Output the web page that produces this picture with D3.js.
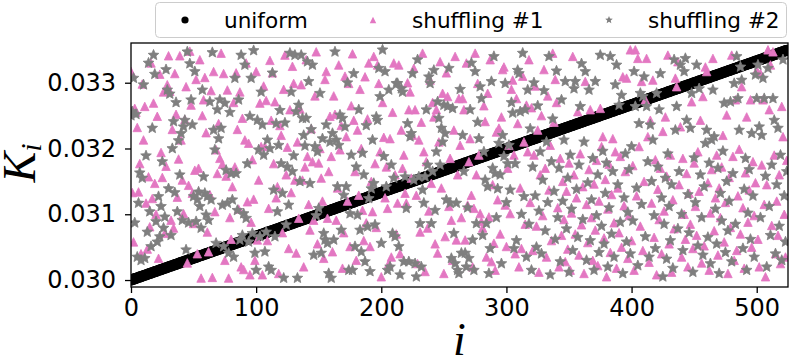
<!DOCTYPE html>
<html>
<head>
<meta charset="utf-8">
<script src="https://d3js.org/d3.v7.min.js"></script>
<style>
  body { margin: 0; background: #ffffff; }
  .axis text { font-family: "DejaVu Sans", sans-serif; font-size: 24px; fill: #000; }
  .axis line { stroke: #000; stroke-width: 1.3px; }
  .legendText { font-family: "DejaVu Sans", sans-serif; font-size: 21.6px; fill: #000; }
  .axisLabel { font-family: "Liberation Serif", serif; font-style: italic; font-size: 46px; fill: #000; }
</style>
</head>
<body>
<svg class="chart"></svg>
<script>

// K_i for the sorted ("uniform") assignment
var uniformK = [
  0.030000, 0.030007, 0.030013, 0.030020, 0.030027, 0.030033, 0.030040, 0.030047, 0.030053, 0.030060, 0.030067, 0.030073,
  0.030080, 0.030087, 0.030093, 0.030100, 0.030107, 0.030113, 0.030120, 0.030127, 0.030133, 0.030140, 0.030147, 0.030153,
  0.030160, 0.030167, 0.030173, 0.030180, 0.030187, 0.030193, 0.030200, 0.030207, 0.030213, 0.030220, 0.030227, 0.030233,
  0.030240, 0.030247, 0.030253, 0.030260, 0.030267, 0.030273, 0.030280, 0.030287, 0.030293, 0.030300, 0.030307, 0.030313,
  0.030320, 0.030327, 0.030333, 0.030340, 0.030347, 0.030353, 0.030360, 0.030367, 0.030373, 0.030380, 0.030387, 0.030393,
  0.030400, 0.030407, 0.030413, 0.030420, 0.030427, 0.030433, 0.030440, 0.030447, 0.030453, 0.030460, 0.030467, 0.030473,
  0.030480, 0.030487, 0.030493, 0.030500, 0.030507, 0.030513, 0.030520, 0.030527, 0.030533, 0.030540, 0.030547, 0.030553,
  0.030560, 0.030567, 0.030573, 0.030580, 0.030587, 0.030593, 0.030600, 0.030607, 0.030613, 0.030620, 0.030627, 0.030633,
  0.030640, 0.030647, 0.030653, 0.030660, 0.030667, 0.030673, 0.030680, 0.030687, 0.030693, 0.030700, 0.030707, 0.030713,
  0.030720, 0.030727, 0.030733, 0.030740, 0.030747, 0.030753, 0.030760, 0.030767, 0.030773, 0.030780, 0.030787, 0.030793,
  0.030800, 0.030807, 0.030813, 0.030820, 0.030827, 0.030833, 0.030840, 0.030847, 0.030853, 0.030860, 0.030867, 0.030873,
  0.030880, 0.030887, 0.030893, 0.030900, 0.030907, 0.030913, 0.030920, 0.030927, 0.030933, 0.030940, 0.030947, 0.030953,
  0.030960, 0.030967, 0.030973, 0.030980, 0.030987, 0.030993, 0.031000, 0.031007, 0.031013, 0.031020, 0.031027, 0.031033,
  0.031040, 0.031047, 0.031053, 0.031060, 0.031067, 0.031073, 0.031080, 0.031087, 0.031093, 0.031100, 0.031107, 0.031113,
  0.031120, 0.031127, 0.031133, 0.031140, 0.031147, 0.031153, 0.031160, 0.031167, 0.031173, 0.031180, 0.031187, 0.031193,
  0.031200, 0.031207, 0.031213, 0.031220, 0.031227, 0.031233, 0.031240, 0.031247, 0.031253, 0.031260, 0.031267, 0.031273,
  0.031280, 0.031287, 0.031293, 0.031300, 0.031307, 0.031313, 0.031320, 0.031327, 0.031333, 0.031340, 0.031347, 0.031353,
  0.031360, 0.031367, 0.031373, 0.031380, 0.031387, 0.031393, 0.031400, 0.031407, 0.031413, 0.031420, 0.031427, 0.031433,
  0.031440, 0.031447, 0.031453, 0.031460, 0.031467, 0.031473, 0.031480, 0.031487, 0.031493, 0.031500, 0.031507, 0.031513,
  0.031520, 0.031527, 0.031533, 0.031540, 0.031547, 0.031553, 0.031560, 0.031567, 0.031573, 0.031580, 0.031587, 0.031593,
  0.031600, 0.031607, 0.031613, 0.031620, 0.031627, 0.031633, 0.031640, 0.031647, 0.031653, 0.031660, 0.031667, 0.031673,
  0.031680, 0.031687, 0.031693, 0.031700, 0.031707, 0.031713, 0.031720, 0.031727, 0.031733, 0.031740, 0.031747, 0.031753,
  0.031760, 0.031767, 0.031773, 0.031780, 0.031787, 0.031793, 0.031800, 0.031807, 0.031813, 0.031820, 0.031827, 0.031833,
  0.031840, 0.031847, 0.031853, 0.031860, 0.031867, 0.031873, 0.031880, 0.031887, 0.031893, 0.031900, 0.031907, 0.031913,
  0.031920, 0.031927, 0.031933, 0.031940, 0.031947, 0.031953, 0.031960, 0.031967, 0.031973, 0.031980, 0.031987, 0.031993,
  0.032000, 0.032007, 0.032013, 0.032020, 0.032027, 0.032033, 0.032040, 0.032047, 0.032053, 0.032060, 0.032067, 0.032073,
  0.032080, 0.032087, 0.032093, 0.032100, 0.032107, 0.032113, 0.032120, 0.032127, 0.032133, 0.032140, 0.032147, 0.032153,
  0.032160, 0.032167, 0.032173, 0.032180, 0.032187, 0.032193, 0.032200, 0.032207, 0.032213, 0.032220, 0.032227, 0.032233,
  0.032240, 0.032247, 0.032253, 0.032260, 0.032267, 0.032273, 0.032280, 0.032287, 0.032293, 0.032300, 0.032307, 0.032313,
  0.032320, 0.032327, 0.032333, 0.032340, 0.032347, 0.032353, 0.032360, 0.032367, 0.032373, 0.032380, 0.032387, 0.032393,
  0.032400, 0.032407, 0.032413, 0.032420, 0.032427, 0.032433, 0.032440, 0.032447, 0.032453, 0.032460, 0.032467, 0.032473,
  0.032480, 0.032487, 0.032493, 0.032500, 0.032507, 0.032513, 0.032520, 0.032527, 0.032533, 0.032540, 0.032547, 0.032553,
  0.032560, 0.032567, 0.032573, 0.032580, 0.032587, 0.032593, 0.032600, 0.032607, 0.032613, 0.032620, 0.032627, 0.032633,
  0.032640, 0.032647, 0.032653, 0.032660, 0.032667, 0.032673, 0.032680, 0.032687, 0.032693, 0.032700, 0.032707, 0.032713,
  0.032720, 0.032727, 0.032733, 0.032740, 0.032747, 0.032753, 0.032760, 0.032767, 0.032773, 0.032780, 0.032787, 0.032793,
  0.032800, 0.032807, 0.032813, 0.032820, 0.032827, 0.032833, 0.032840, 0.032847, 0.032853, 0.032860, 0.032867, 0.032873,
  0.032880, 0.032887, 0.032893, 0.032900, 0.032907, 0.032913, 0.032920, 0.032927, 0.032933, 0.032940, 0.032947, 0.032953,
  0.032960, 0.032967, 0.032973, 0.032980, 0.032987, 0.032993, 0.033000, 0.033007, 0.033013, 0.033020, 0.033027, 0.033033,
  0.033040, 0.033047, 0.033053, 0.033060, 0.033067, 0.033073, 0.033080, 0.033087, 0.033093, 0.033100, 0.033107, 0.033113,
  0.033120, 0.033127, 0.033133, 0.033140, 0.033147, 0.033153, 0.033160, 0.033167, 0.033173, 0.033180, 0.033187, 0.033193,
  0.033200, 0.033207, 0.033213, 0.033220, 0.033227, 0.033233, 0.033240, 0.033247, 0.033253, 0.033260, 0.033267, 0.033273,
  0.033280, 0.033287, 0.033293, 0.033300, 0.033307, 0.033313, 0.033320, 0.033327, 0.033333, 0.033340, 0.033347, 0.033353,
  0.033360, 0.033367, 0.033373, 0.033380, 0.033387, 0.033393, 0.033400, 0.033407, 0.033413, 0.033420, 0.033427, 0.033433,
  0.033440, 0.033447, 0.033453, 0.033460, 0.033467, 0.033473, 0.033480, 0.033487, 0.033493
];

// shuffling #1 (index order)
var shuffling1 = [
  0.03317, 0.03133, 0.03058, 0.03261, 0.03255, 0.03232, 0.03134, 0.03177, 0.03040, 0.03298, 0.03213, 0.03264, 0.03117, 0.03047, 0.03157, 0.03081, 0.03330, 0.03124,
  0.03269, 0.03147, 0.03100, 0.03249, 0.03033, 0.03313, 0.03194, 0.03156, 0.03286, 0.03071, 0.03173, 0.03297, 0.03341, 0.03287, 0.03091, 0.03229, 0.03079, 0.03314,
  0.03252, 0.03126, 0.03184, 0.03341, 0.03213, 0.03152, 0.03101, 0.03244, 0.03294, 0.03026, 0.03144, 0.03348, 0.03266, 0.03132, 0.03086, 0.03167, 0.03305, 0.03040,
  0.03170, 0.03335, 0.03003, 0.03250, 0.03274, 0.03308, 0.03224, 0.03073, 0.03043, 0.03130, 0.03288, 0.03004, 0.03317, 0.03104, 0.03198, 0.03162, 0.03238, 0.03185,
  0.03345, 0.03176, 0.03314, 0.03030, 0.03158, 0.03289, 0.03003, 0.03095, 0.03062, 0.03142, 0.03270, 0.03172, 0.03315, 0.03229, 0.03108, 0.03286, 0.03020, 0.03246,
  0.03016, 0.03213, 0.03330, 0.03119, 0.03208, 0.03008, 0.03088, 0.03183, 0.03123, 0.03030, 0.03317, 0.03061, 0.03152, 0.03269, 0.03203, 0.03008, 0.03295,
  0.03203, 0.03273, 0.03060, 0.03109, 0.03334, 0.03243, 0.03315, 0.03177, 0.03271, 0.03125, 0.03142, 0.03010, 0.03235, 0.03220, 0.03072, 0.03290, 0.03342, 0.03160,
  0.03202, 0.03048, 0.03259, 0.03133, 0.03325, 0.03299, 0.03152, 0.03041, 0.03210, 0.03094, 0.03260, 0.03297, 0.03152, 0.03020, 0.03172, 0.03335, 0.03188, 0.03115,
  0.03076, 0.03230, 0.03180, 0.03091, 0.03280, 0.03347, 0.03055, 0.03178, 0.03200, 0.03155, 0.03120, 0.03033, 0.03305, 0.03317, 0.03094, 0.03165, 0.03249,
  0.03188, 0.03043, 0.03280, 0.03252, 0.03091, 0.03140, 0.03327, 0.03198, 0.03235, 0.03018, 0.03072, 0.03310, 0.03218, 0.03120, 0.03299, 0.03051, 0.03265, 0.03344,
  0.03243, 0.03165, 0.03030, 0.03228, 0.03129, 0.03290, 0.03200, 0.03106, 0.03060, 0.03309, 0.03087, 0.03245, 0.03330, 0.03051, 0.03150, 0.03104, 0.03340, 0.03177,
  0.03080, 0.03327, 0.03299, 0.03195, 0.03005, 0.03270, 0.03217, 0.03125, 0.03172, 0.03109, 0.03025, 0.03215, 0.03035, 0.03255, 0.03330, 0.03160, 0.03070,
  0.03117, 0.03327, 0.03040, 0.03228, 0.03170, 0.03190, 0.03132, 0.03117, 0.03300, 0.03259, 0.03286, 0.03155, 0.03220, 0.03322, 0.03259, 0.03129, 0.03025, 0.03213,
  0.03073, 0.03240, 0.03345, 0.03195, 0.03013, 0.03180, 0.03079, 0.03105, 0.03304, 0.03147, 0.03270, 0.03248, 0.03055, 0.03259, 0.03041, 0.03210, 0.03332, 0.03140,
  0.03284, 0.03010, 0.03066, 0.03315, 0.03279, 0.03112, 0.03185, 0.03091, 0.03030, 0.03228, 0.03340, 0.03061, 0.03160, 0.03276, 0.03205, 0.03095,
  0.03276, 0.03259, 0.03061, 0.03330, 0.03114, 0.03180, 0.03215, 0.03129, 0.03020, 0.03109, 0.03345, 0.03160, 0.03299, 0.03190, 0.03101, 0.03089, 0.03079, 0.03265,
  0.03241, 0.03035, 0.03284, 0.03096, 0.03335, 0.03028, 0.03145, 0.03056, 0.03015, 0.03225, 0.03122, 0.03231, 0.03070, 0.03248, 0.03320, 0.03324, 0.03114, 0.03051,
  0.03170, 0.03205, 0.03101, 0.03290, 0.03304, 0.03190, 0.03040, 0.03276, 0.03238, 0.03020, 0.03140, 0.03048, 0.03310, 0.03210, 0.03085, 0.03266, 0.03195,
  0.03335, 0.03118, 0.03262, 0.03045, 0.03190, 0.03295, 0.03082, 0.03228, 0.03012, 0.03160, 0.03250, 0.03098, 0.03320, 0.03170, 0.03035, 0.03280, 0.03137, 0.03205, 0.03060, 0.03345,
  0.03240, 0.03305, 0.03270, 0.03110, 0.03020, 0.03185, 0.03068, 0.03150, 0.03092, 0.03028, 0.03135, 0.03047, 0.03178, 0.03015, 0.03102, 0.03340, 0.03160, 0.03070, 0.03125, 0.03256,
  0.03038, 0.03192, 0.03084, 0.03142, 0.03010, 0.03302, 0.03115, 0.03057, 0.03168, 0.03259, 0.03095, 0.03030, 0.03146, 0.03076, 0.03182, 0.03022, 0.03120, 0.03261, 0.03203, 0.03218,
  0.03064, 0.03153, 0.03005, 0.03108, 0.03176, 0.03042, 0.03130, 0.03215, 0.03087, 0.03195, 0.03018, 0.03140, 0.03072, 0.03188, 0.03050, 0.03309, 0.03113, 0.03165, 0.03307, 0.03033,
  0.03098, 0.03350, 0.03060, 0.03174, 0.03015, 0.03350, 0.03128, 0.03337, 0.03203, 0.03082, 0.03302, 0.03045, 0.03150, 0.03274, 0.03337, 0.03218, 0.03027, 0.03243, 0.03117, 0.03304,
  0.03065, 0.03183, 0.03008, 0.03138, 0.03092, 0.03170, 0.03040, 0.03226, 0.03105, 0.03248, 0.03158, 0.03342, 0.03055, 0.03190, 0.03012, 0.03122, 0.03078, 0.03307, 0.03294, 0.03332,
  0.03145, 0.03233, 0.03035, 0.03185, 0.03100, 0.03062, 0.03162, 0.03020, 0.03132, 0.03085, 0.03271, 0.03048, 0.03178, 0.03112, 0.03068, 0.03195, 0.03135, 0.03243, 0.03026, 0.03279,
  0.03052, 0.03324, 0.03317, 0.03148, 0.03015, 0.03102, 0.03168, 0.03337, 0.03075, 0.03125, 0.03190, 0.03038, 0.03140, 0.03095, 0.03172, 0.03220, 0.03058, 0.03118, 0.03251, 0.03010,
  0.03156, 0.03080, 0.03342, 0.03188, 0.03030, 0.03274, 0.03045, 0.03128, 0.03199, 0.03070, 0.03294, 0.03110, 0.03018, 0.03163, 0.03248, 0.03088, 0.03137, 0.03274, 0.03050, 0.03180,
  0.03098, 0.03148, 0.03319, 0.03062, 0.03020, 0.03314, 0.03175, 0.03274, 0.03115, 0.03005, 0.03145, 0.03350, 0.03259, 0.03327, 0.03083, 0.03347, 0.03190, 0.03040, 0.03120, 0.03068,
  0.03160, 0.03025, 0.03264, 0.03218, 0.03100, 0.03035, 0.03182
];

// shuffling #2 (index order)
var shuffling2 = [
  0.03250, 0.03256, 0.03307, 0.03087, 0.03252, 0.03035, 0.03117, 0.03163, 0.03030, 0.03155, 0.03297, 0.03033, 0.03189, 0.03073, 0.03330, 0.03104, 0.03051, 0.03231,
  0.03342, 0.03313, 0.03089, 0.03058, 0.03127, 0.03066, 0.03112, 0.03180, 0.03079, 0.03096, 0.03320, 0.03289, 0.03139, 0.03283, 0.03068, 0.03200, 0.03241, 0.03133,
  0.03270, 0.03104, 0.03212, 0.03160, 0.03223, 0.03091, 0.03233, 0.03243, 0.03046, 0.03347, 0.03087, 0.03329, 0.03274, 0.03236, 0.03127, 0.03317, 0.03089, 0.03122,
  0.03134, 0.03112, 0.03079, 0.03289, 0.03157, 0.03132, 0.03099, 0.03127, 0.03091, 0.03271, 0.03122, 0.03346, 0.03228, 0.03198, 0.03056, 0.03259, 0.03215, 0.03274,
  0.03231, 0.03114, 0.03051, 0.03269, 0.03167, 0.03117, 0.03041, 0.03255, 0.03162, 0.03122, 0.03035, 0.03307, 0.03162, 0.03106, 0.03274, 0.03061, 0.03342, 0.03068,
  0.03101, 0.03327, 0.03094, 0.03177, 0.03058, 0.03249, 0.03307, 0.03071, 0.03349, 0.03041, 0.03015, 0.03243, 0.03198, 0.03066, 0.03286, 0.03236, 0.03190,
  0.03043, 0.03073, 0.03213, 0.03020, 0.03200, 0.03015, 0.03315, 0.03137, 0.03066, 0.03238, 0.03104, 0.03205, 0.03258, 0.03177, 0.03132, 0.03003, 0.03239, 0.03084,
  0.03172, 0.03114, 0.03345, 0.03286, 0.03165, 0.03189, 0.03342, 0.03256, 0.03003, 0.03266, 0.03150, 0.03342, 0.03246, 0.03220, 0.03204, 0.03246, 0.03332, 0.03302,
  0.03147, 0.03229, 0.03327, 0.03038, 0.03203, 0.03098, 0.03195, 0.03109, 0.03284, 0.03041, 0.03215, 0.03071, 0.03061, 0.03236, 0.03056, 0.03010, 0.03210,
  0.03003, 0.03223, 0.03061, 0.03347, 0.03213, 0.03142, 0.03205, 0.03251, 0.03076, 0.03246, 0.03129, 0.03233, 0.03142, 0.03300, 0.03015, 0.03101, 0.03190, 0.03015,
  0.03314, 0.03051, 0.03172, 0.03099, 0.03259, 0.03076, 0.03043, 0.03193, 0.03160, 0.03028, 0.03235, 0.03081, 0.03124, 0.03013, 0.03139, 0.03213, 0.03147, 0.03084,
  0.03248, 0.03243, 0.03322, 0.03279, 0.03056, 0.03350, 0.03188, 0.03317, 0.03142, 0.03015, 0.03289, 0.03020, 0.03175, 0.03071, 0.03155, 0.03066, 0.03299,
  0.03299, 0.03051, 0.03008, 0.03291, 0.03286, 0.03028, 0.03157, 0.03109, 0.03238, 0.03028, 0.03218, 0.03223, 0.03314, 0.03152, 0.03025, 0.03005, 0.03335, 0.03157,
  0.03086, 0.03020, 0.03137, 0.03117, 0.03157, 0.03259, 0.03175, 0.03309, 0.03299, 0.03086, 0.03165, 0.03319, 0.03106, 0.03195, 0.03271, 0.03246, 0.03175, 0.03231,
  0.03210, 0.03266, 0.03223, 0.03122, 0.03264, 0.03322, 0.03117, 0.03033, 0.03261, 0.03071, 0.03025, 0.03117, 0.03015, 0.03010, 0.03290, 0.03041,
  0.03220, 0.03165, 0.03041, 0.03020, 0.03110, 0.03033, 0.03259, 0.03330, 0.03061, 0.03015, 0.03317, 0.03086, 0.03240, 0.03215, 0.03294, 0.03276, 0.03068, 0.03195,
  0.03152, 0.03086, 0.03142, 0.03010, 0.03048, 0.03302, 0.03170, 0.03340, 0.03162, 0.03095, 0.03139, 0.03208, 0.03160, 0.03025, 0.03220, 0.03188, 0.03299, 0.03118,
  0.03177, 0.03205, 0.03137, 0.03270, 0.03254, 0.03048, 0.03177, 0.03060, 0.03319, 0.03314, 0.03256, 0.03100, 0.03345, 0.03127, 0.03259, 0.03035, 0.03289,
  0.03085, 0.03230, 0.03015, 0.03172, 0.03300, 0.03128, 0.03050, 0.03265, 0.03105, 0.03195, 0.03040, 0.03152, 0.03288, 0.03075, 0.03210, 0.03118, 0.03340, 0.03008, 0.03180, 0.03245,
  0.03135, 0.03062, 0.03318, 0.03095, 0.03170, 0.03028, 0.03274, 0.03120, 0.03213, 0.03302, 0.03078, 0.03155, 0.03012, 0.03190, 0.03108, 0.03045, 0.03291, 0.03302, 0.03138, 0.03065,
  0.03175, 0.03264, 0.03329, 0.03092, 0.03210, 0.03317, 0.03030, 0.03148, 0.03289, 0.03060, 0.03122, 0.03185, 0.03015, 0.03302, 0.03098, 0.03160, 0.03042, 0.03342, 0.03082, 0.03196,
  0.03055, 0.03132, 0.03178, 0.03020, 0.03110, 0.03340, 0.03070, 0.03165, 0.03035, 0.03297, 0.03327, 0.03145, 0.03266, 0.03088, 0.03281, 0.03010, 0.03125, 0.03192, 0.03058, 0.03103,
  0.03168, 0.03040, 0.03203, 0.03090, 0.03317, 0.03264, 0.03140, 0.03022, 0.03238, 0.03284, 0.03115, 0.03279, 0.03309, 0.03066, 0.03264, 0.03180, 0.03035, 0.03236, 0.03150, 0.03213,
  0.03098, 0.03048, 0.03284, 0.03172, 0.03259, 0.03314, 0.03125, 0.03005, 0.03085, 0.03155, 0.03032, 0.03192, 0.03112, 0.03060, 0.03145, 0.03018, 0.03335, 0.03228, 0.03264, 0.03078,
  0.03165, 0.03327, 0.03100, 0.03045, 0.03317, 0.03337, 0.03243, 0.03130, 0.03072, 0.03231, 0.03284, 0.03012, 0.03186, 0.03118, 0.03327, 0.03052, 0.03291, 0.03160, 0.03095, 0.03038,
  0.03142, 0.03208, 0.03228, 0.03065, 0.03178, 0.03025, 0.03213, 0.03289, 0.03218, 0.03108, 0.03055, 0.03170, 0.03010, 0.03132, 0.03090, 0.03196, 0.03269, 0.03042, 0.03150, 0.03075,
  0.03120, 0.03271, 0.03028, 0.03162, 0.03299, 0.03085, 0.03340, 0.03276, 0.03228, 0.03324, 0.03304, 0.03048, 0.03138, 0.03185, 0.03015, 0.03102, 0.03168, 0.03062, 0.03223, 0.03128,
  0.03035, 0.03312, 0.03276, 0.03327, 0.03233, 0.03095, 0.03220, 0.03307, 0.03276, 0.03158, 0.03020, 0.03322, 0.03112, 0.03068, 0.03175, 0.03276, 0.03243, 0.03040, 0.03145, 0.03231,
  0.03082, 0.03190, 0.03030, 0.03335, 0.03128, 0.03058, 0.03165
];

var seriesNames = ["uniform", "shuffling #1", "shuffling #2"];
var xTicks = [0, 100, 200, 300, 400, 500];
var yTicks = [0.030, 0.031, 0.032, 0.033];
var xLimits = [0, 525];
var yLimits = [0.029894, 0.033604];

var width = 789, height = 364;
var plot = {left: 131, right: 788, top: 43, bottom: 287};

var colors = {uniform: "#000000", shuffle1: "#e377c2", shuffle2: "#7f7f7f"};

var svg = d3.select(".chart").attr("width", width).attr("height", height);

var x = d3.scaleLinear().domain(xLimits).range([plot.left, plot.right]);
var y = d3.scaleLinear().domain(yLimits).range([plot.bottom, plot.top]);

function trianglePath(s) {
  var r = s / 2;
  return "M0," + (-r) + "L" + r + "," + r + "L" + (-r) + "," + r + "Z";
}

function starPath(R, ratio) {
  var p = d3.path();
  for (var k = 0; k < 10; k++) {
    var r = (k % 2) ? R * ratio : R;
    var a = -Math.PI / 2 + k * Math.PI / 5;
    if (k === 0) p.moveTo(r * Math.cos(a), r * Math.sin(a));
    else p.lineTo(r * Math.cos(a), r * Math.sin(a));
  }
  p.closePath();
  return p.toString();
}

svg.append("defs").append("clipPath").attr("id", "plotClip")
   .append("rect")
   .attr("x", plot.left).attr("y", plot.top)
   .attr("width", plot.right - plot.left).attr("height", plot.bottom - plot.top);

var points = svg.append("g").attr("clip-path", "url(#plotClip)");

// uniform: dense black dots forming the thick line
points.append("g").selectAll("circle")
      .data(uniformK)
      .enter().append("circle")
      .attr("cx", function(d, i) { return x(i); })
      .attr("cy", function(d) { return y(d); })
      .attr("r", 5.6)
      .attr("fill", colors.uniform);

points.append("g").selectAll("path")
      .data(shuffling1)
      .enter().append("path")
      .attr("d", trianglePath(8.5))
      .attr("transform", function(d, i) { return "translate(" + x(i) + "," + y(d) + ")"; })
      .attr("fill", colors.shuffle1)
      .attr("stroke", colors.shuffle1)
      .attr("stroke-width", 0.8);

points.append("g").selectAll("path")
      .data(shuffling2)
      .enter().append("path")
      .attr("d", starPath(5.6, 0.45))
      .attr("transform", function(d, i) { return "translate(" + x(i) + "," + y(d) + ")"; })
      .attr("fill", colors.shuffle2)
      .attr("stroke", colors.shuffle2)
      .attr("stroke-width", 0.8);

// axes
var xAxis = svg.append("g")
   .attr("class", "axis")
   .attr("transform", "translate(0," + plot.bottom + ")")
   .call(d3.axisBottom(x).tickValues(xTicks).tickSize(6).tickPadding(6).tickFormat(d3.format("d")));

var yAxis = svg.append("g")
   .attr("class", "axis")
   .attr("transform", "translate(" + plot.left + ",0)")
   .call(d3.axisLeft(y).tickValues(yTicks).tickSize(6).tickPadding(9).tickFormat(d3.format(".3f")));

xAxis.select(".domain").remove();
yAxis.select(".domain").remove();

svg.append("rect")
   .attr("x", plot.left).attr("y", plot.top)
   .attr("width", plot.right - plot.left).attr("height", plot.bottom - plot.top)
   .attr("fill", "none")
   .attr("stroke", "#000")
   .attr("stroke-width", 1.3);

// axis labels
var yLabel = svg.append("text")
   .attr("class", "axisLabel")
   .attr("transform", "translate(35,163) rotate(-90)")
   .attr("text-anchor", "middle");
yLabel.append("tspan").text("K");
yLabel.append("tspan").attr("font-size", "30px").attr("dy", "6").text("i");

svg.append("text")
   .attr("class", "axisLabel")
   .attr("x", (plot.left + plot.right) / 2)
   .attr("y", 355)
   .attr("text-anchor", "middle")
   .text("i");

// legend, three columns above the axes
var legend = svg.append("g");
legend.append("rect")
      .attr("x", 155.5).attr("y", 2.5)
      .attr("width", 631).attr("height", 35)
      .attr("rx", 4)
      .attr("fill", "#fff").attr("fill-opacity", 0.8)
      .attr("stroke", "#cccccc").attr("stroke-width", 1);

var legendX = [185, 373, 609];
var legendY = 20;

legend.append("circle").attr("cx", legendX[0]).attr("cy", legendY).attr("r", 3.6).attr("fill", colors.uniform);
legend.append("path").attr("d", trianglePath(6.5))
      .attr("transform", "translate(" + legendX[1] + "," + legendY + ")")
      .attr("fill", colors.shuffle1);
legend.append("path").attr("d", starPath(4, 0.45))
      .attr("transform", "translate(" + legendX[2] + "," + legendY + ")")
      .attr("fill", colors.shuffle2);

legend.selectAll(".legendText")
      .data(seriesNames)
      .enter().append("text")
      .attr("class", "legendText")
      .attr("x", function(d, i) { return legendX[i] + 39; })
      .attr("y", legendY + 7.5)
      .text(function(d) { return d; });

</script>
</body>
</html>
